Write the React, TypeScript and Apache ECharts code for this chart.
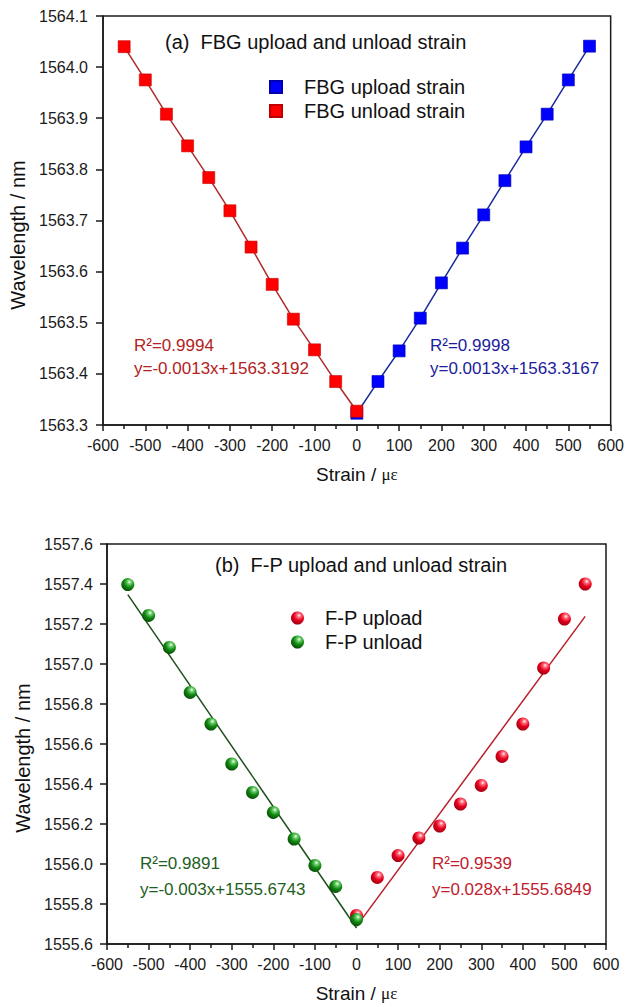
import React, { useEffect, useRef } from "react";
import * as echarts from "echarts";

// ---------- data ----------
const fbgUnloadX = [-550, -500, -450, -400, -350, -300, -250, -200, -150, -100, -50, 0];
const fbgUnloadY = [1564.04, 1563.975, 1563.908, 1563.846, 1563.784, 1563.719, 1563.648, 1563.575, 1563.507, 1563.447, 1563.385, 1563.327];
const fbgUploadX = [0, 50, 100, 150, 200, 250, 300, 350, 400, 450, 500, 550];
const fbgUploadY = [1563.323, 1563.385, 1563.445, 1563.509, 1563.578, 1563.646, 1563.711, 1563.778, 1563.844, 1563.908, 1563.975, 1564.041];

const fpUploadX = [0, 50, 100, 150, 200, 250, 300, 350, 400, 450, 500, 550];
const fpUploadY = [1555.743, 1555.933, 1556.042, 1556.13, 1556.19, 1556.3, 1556.393, 1556.538, 1556.7, 1556.98, 1557.225, 1557.4];
const fpUnloadX = [-550, -500, -450, -400, -350, -300, -250, -200, -150, -100, -50, 0];
const fpUnloadY = [1557.397, 1557.243, 1557.083, 1556.858, 1556.7, 1556.5, 1556.358, 1556.258, 1556.125, 1555.993, 1555.888, 1555.722];

// fitted line end points
const fpUploadFitX = [0, 550];
const fpUploadFitY = [1555.688, 1557.238];
const fpUnloadFitX = [-550, 0];
const fpUnloadFitY = [1557.347, 1555.68];

const titleA = "(a)  FBG upload and unload strain";
const titleB = "(b)  F-P upload and unload strain";
const legendA = ["FBG upload strain", "FBG unload strain"];
const legendB = ["F-P upload", "F-P unload"];
const annA = [["R²=0.9994", "y=-0.0013x+1563.3192"], ["R²=0.9998", "y=0.0013x+1563.3167"]];
const annB = [["R²=0.9891", "y=-0.003x+1555.6743"], ["R²=0.9539", "y=0.028x+1555.6849"]];
const yName = "Wavelength / nm";

const zip = (xs: number[], ys: number[]) => xs.map((x, i) => [x, ys[i]]);

const FONT = "'Liberation Sans', Arial, Helvetica, sans-serif";
const AX = "#1a1a1a";

const ball = (c0: string, c1: string, c2: string) => ({
  type: "radial",
  x: 0.62,
  y: 0.3,
  r: 0.8,
  colorStops: [
    { offset: 0, color: "#ffffff" },
    { offset: 0.18, color: c0 },
    { offset: 0.5, color: c1 },
    { offset: 1, color: c2 },
  ],
});

function xAxis(gridIndex: number) {
  return {
    type: "value",
    gridIndex,
    min: -600,
    max: 600,
    interval: 100,
    name: "{a|Strain / }{b|με}",
    nameLocation: "middle",
    nameGap: 40,
    nameTextStyle: {
      rich: {
        a: { fontFamily: FONT, fontSize: 19, color: "#111" },
        b: { fontFamily: "'Liberation Serif', 'DejaVu Serif', serif", fontSize: 17, color: "#111" },
      },
    },
    axisLine: { show: true, onZero: false, lineStyle: { color: AX, width: 1.5 } },
    axisTick: { show: true, inside: false, length: 6, lineStyle: { color: AX, width: 1.5 } },
    minorTick: { show: true, splitNumber: 2, length: 4, lineStyle: { color: AX, width: 1.5 } },
    axisLabel: { fontFamily: FONT, fontSize: 16, color: "#1a1a1a", margin: 12 },
    splitLine: { show: false },
  };
}

function yAxis(gridIndex: number, min: number, max: number, interval: number, margin: number) {
  return {
    type: "value",
    gridIndex,
    min,
    max,
    interval,
    axisLine: { show: true, onZero: false, lineStyle: { color: AX, width: 1.5 } },
    axisTick: { show: true, inside: false, length: 7, lineStyle: { color: AX, width: 1.5 } },
    axisLabel: {
      fontFamily: FONT,
      fontSize: 16,
      color: "#1a1a1a",
      margin,
      formatter: (v: number) => v.toFixed(1),
    },
    splitLine: { show: false },
  };
}

export default function App() {
  const ref = useRef<HTMLDivElement>(null);
  useEffect(() => {
    if (!ref.current) return;
    const chart = echarts.init(ref.current, undefined, { renderer: "svg" });
    const txt = (text: string, x: number, y: number, color: string, fontSize: number) => ({
      type: "text",
      x,
      y,
      style: { text, fill: color, fontSize, fontFamily: FONT, verticalAlign: "middle", align: "left" },
    });
    const option = {
      animation: false,
      backgroundColor: "#ffffff",
      grid: [
        { left: 103, top: 16, width: 510, height: 409, show: true, borderColor: AX, borderWidth: 1.5, backgroundColor: "transparent" },
        { left: 107, top: 544, width: 499, height: 400, show: true, borderColor: AX, borderWidth: 1.5, backgroundColor: "transparent" },
      ],
      xAxis: [xAxis(0), xAxis(1)],
      yAxis: [yAxis(0, 1563.3, 1564.1, 0.1, 15), yAxis(1, 1555.6, 1557.6, 0.2, 14)],
      legend: [
        {
          orient: "vertical",
          left: 269,
          top: 77,
          padding: 0,
          itemWidth: 12,
          itemHeight: 12,
          itemGap: 4,
          textStyle: { fontFamily: FONT, fontSize: 20, color: "#111", lineHeight: 20, padding: [0, 0, 0, 17] },
          data: [
            { name: legendA[0], icon: "rect" },
            { name: legendA[1], icon: "rect" },
          ],
        },
        {
          orient: "vertical",
          left: 291,
          top: 608,
          padding: 0,
          itemWidth: 13,
          itemHeight: 13,
          itemGap: 4,
          textStyle: { fontFamily: FONT, fontSize: 20, color: "#111", lineHeight: 20, padding: [0, 0, 0, 16] },
          data: [
            { name: legendB[0], icon: "circle" },
            { name: legendB[1], icon: "circle" },
          ],
        },
      ],
      series: [
        {
          type: "line",
          name: "fbg-unload-line",
          xAxisIndex: 0,
          yAxisIndex: 0,
          data: zip(fbgUnloadX, fbgUnloadY),
          symbol: "none",
          lineStyle: { color: "#b02a2a", width: 1.5 },
          z: 2,
        },
        {
          type: "line",
          name: "fbg-upload-line",
          xAxisIndex: 0,
          yAxisIndex: 0,
          data: zip(fbgUploadX, fbgUploadY),
          symbol: "none",
          lineStyle: { color: "#1c2a9c", width: 1.5 },
          z: 2,
        },
        {
          type: "scatter",
          name: legendA[0],
          xAxisIndex: 0,
          yAxisIndex: 0,
          data: zip(fbgUploadX, fbgUploadY),
          symbol: "rect",
          symbolSize: 12,
          itemStyle: { color: "#0000ff", borderColor: "#0000b0", borderWidth: 0.6, opacity: 1 },
          z: 3,
        },
        {
          type: "scatter",
          name: legendA[1],
          xAxisIndex: 0,
          yAxisIndex: 0,
          data: zip(fbgUnloadX, fbgUnloadY),
          symbol: "rect",
          symbolSize: 12,
          itemStyle: { color: "#ff0000", borderColor: "#c00000", borderWidth: 0.6, opacity: 1 },
          z: 3,
        },
        {
          type: "line",
          name: "fp-upload-fit",
          xAxisIndex: 1,
          yAxisIndex: 1,
          data: zip(fpUploadFitX, fpUploadFitY),
          symbol: "none",
          lineStyle: { color: "#b8202a", width: 1.5 },
          z: 2,
        },
        {
          type: "line",
          name: "fp-unload-fit",
          xAxisIndex: 1,
          yAxisIndex: 1,
          data: zip(fpUnloadFitX, fpUnloadFitY),
          symbol: "none",
          lineStyle: { color: "#1f4f1f", width: 1.5 },
          z: 2,
        },
        {
          type: "scatter",
          name: legendB[0],
          xAxisIndex: 1,
          yAxisIndex: 1,
          data: zip(fpUploadX, fpUploadY),
          symbol: "circle",
          symbolSize: 13,
          itemStyle: { color: ball("#ff7080", "#e8001c", "#8a0010"), opacity: 1 },
          z: 3,
        },
        {
          type: "scatter",
          name: legendB[1],
          xAxisIndex: 1,
          yAxisIndex: 1,
          data: zip(fpUnloadX, fpUnloadY),
          symbol: "circle",
          symbolSize: 13,
          itemStyle: { color: ball("#70d070", "#118a11", "#053d05"), opacity: 1 },
          z: 3,
        },
      ],
      graphic: [
        txt(titleA, 165, 42, "#111", 20),
        txt(titleB, 215, 565, "#111", 20),
        txt(annA[0][0], 134, 345, "#b22222", 17),
        txt(annA[0][1], 134, 368, "#b22222", 17),
        txt(annA[1][0], 430, 345, "#1c1c9c", 17),
        txt(annA[1][1], 430, 368, "#1c1c9c", 17),
        txt(annB[0][0], 140, 863, "#1e5e1e", 17),
        txt(annB[0][1], 140, 889, "#1e5e1e", 17),
        txt(annB[1][0], 432, 863, "#c0202e", 17),
        txt(annB[1][1], 432, 889, "#c0202e", 17),
        {
          type: "text",
          x: 18,
          y: 235,
          rotation: Math.PI / 2,
          style: { text: yName, fill: "#111", fontSize: 20, fontFamily: FONT, align: "center", verticalAlign: "middle" },
        },
        {
          type: "text",
          x: 23,
          y: 758,
          rotation: Math.PI / 2,
          style: { text: yName, fill: "#111", fontSize: 20, fontFamily: FONT, align: "center", verticalAlign: "middle" },
        },
      ],
    };
    chart.setOption(option as any);
    return () => chart.dispose();
  }, []);
  return (
    <div
      ref={ref}
      style={{ position: "fixed", left: 0, top: 0, width: 627, height: 1007, background: "#fff" }}
    />
  );
}
